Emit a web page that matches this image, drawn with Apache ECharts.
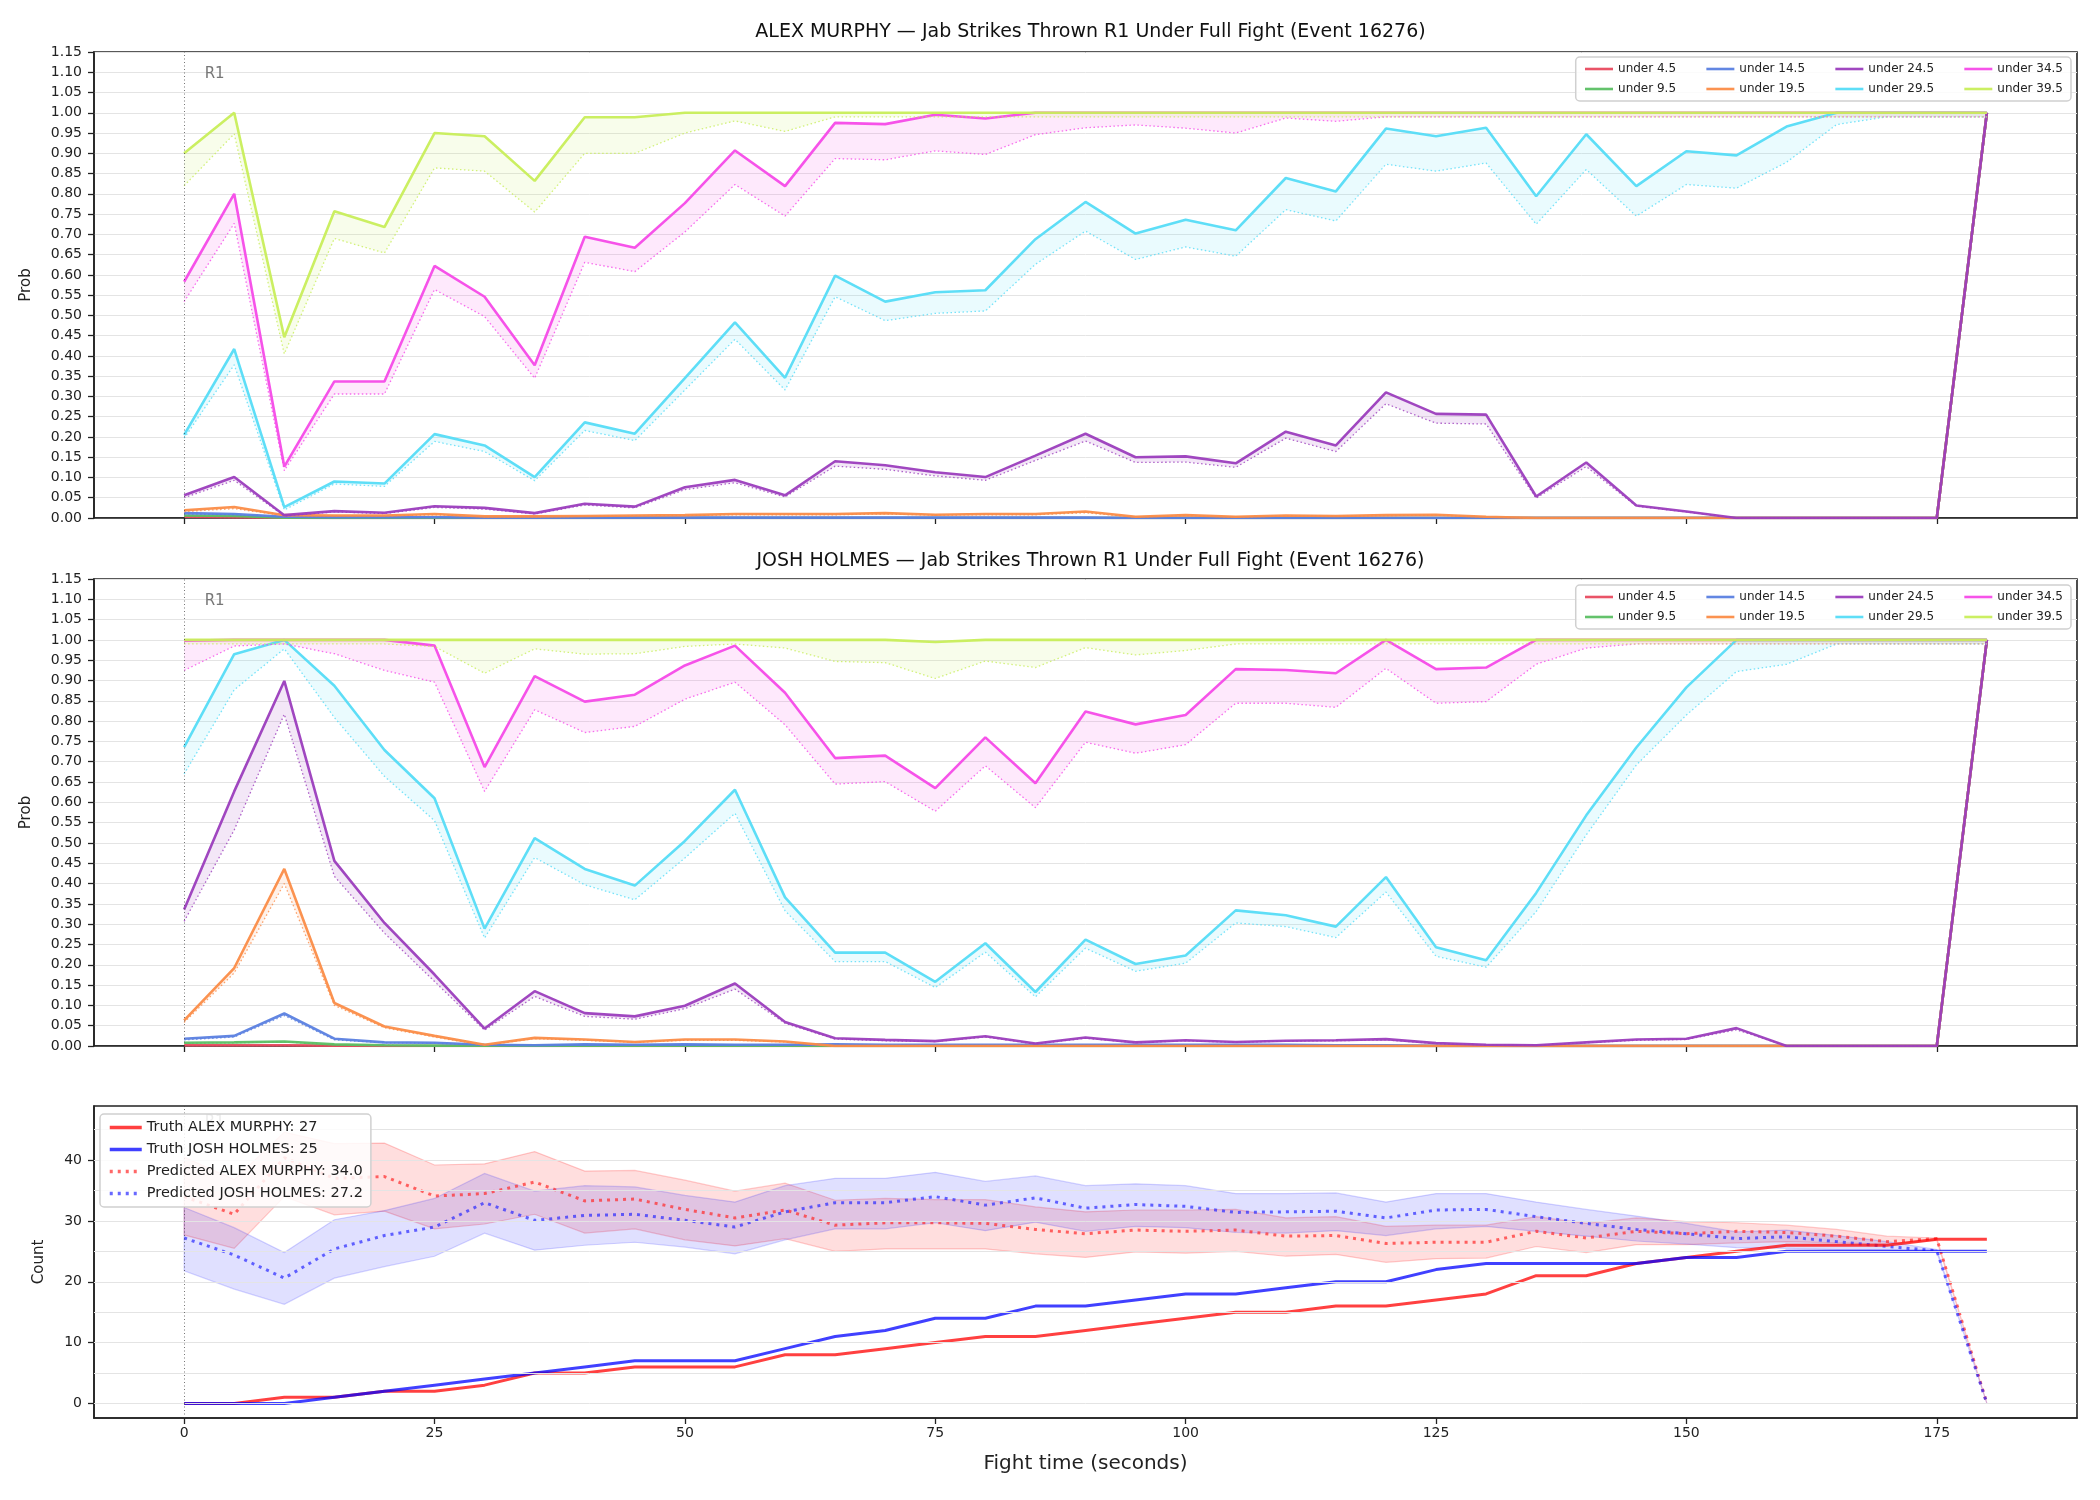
<!DOCTYPE html>
<html>
<head>
<meta charset="utf-8">
<title>Jab Strikes Thrown R1 - Event 16276</title>
<script src="https://cdn.jsdelivr.net/npm/echarts@6/dist/echarts.min.js"></script>
<style>
  html, body { margin: 0; padding: 0; background: #fff; }
  #chart { width: 2100px; height: 1500px; }
</style>
</head>
<body>
<div id="chart"></div>
<script>
// fight time (seconds), one sample every 5 s
const times = [0,5,10,15,20,25,30,35,40,45,50,55,60,65,70,75,80,85,90,95,100,105,110,115,120,125,130,135,140,145,150,155,160,165,170,175,180];
const xTicks = [0,25,50,75,100,125,150,175];
const countLabels = [0,10,20,30,40];
const countGrid = [0,5,10,15,20,25,30,35,40,45];

const thresholds = ['under 4.5','under 9.5','under 14.5','under 19.5','under 24.5','under 29.5','under 34.5','under 39.5'];
const legendRow1 = ['under 4.5','under 14.5','under 24.5','under 34.5'];
const legendRow2 = ['under 9.5','under 19.5','under 29.5','under 39.5'];

// ALEX MURPHY - solid line and dotted (lower) line per threshold
const alexU4_5    = [0.003,0.002,0.001,0,0,0,0,0,0,0,0,0,0,0,0,0,0,0,0,0,0,0,0,0,0,0,0,0,0,0,0,0,0,0,0,0,1];
const alexU4_5Lo  = [0.002,0.001,0,0,0,0,0,0,0,0,0,0,0,0,0,0,0,0,0,0,0,0,0,0,0,0,0,0,0,0,0,0,0,0,0,0,0.99];
const alexU9_5    = [0.006,0.005,0.001,0,0,0,0,0,0,0,0,0,0,0,0,0,0,0,0,0,0,0,0,0,0,0,0,0,0,0,0,0,0,0,0,0,1];
const alexU9_5Lo  = [0.005,0.004,0.001,0,0,0,0,0,0,0,0,0,0,0,0,0,0,0,0,0,0,0,0,0,0,0,0,0,0,0,0,0,0,0,0,0,0.99];
const alexU14_5   = [0.012,0.01,0.003,0.002,0.002,0.002,0.001,0.001,0.001,0.001,0.001,0.001,0.001,0.001,0.001,0.001,0.001,0.001,0.001,0,0,0,0,0,0,0,0,0,0,0,0,0,0,0,0,0,1];
const alexU14_5Lo = [0.01,0.008,0.002,0.002,0.001,0.001,0.001,0.001,0.001,0.001,0.001,0.001,0.001,0.001,0.001,0.001,0.001,0.001,0.001,0,0,0,0,0,0,0,0,0,0,0,0,0,0,0,0,0,0.99];
const alexU19_5   = [0.019,0.027,0.007,0.006,0.006,0.01,0.004,0.004,0.005,0.006,0.007,0.01,0.01,0.01,0.012,0.008,0.01,0.01,0.016,0.003,0.007,0.003,0.006,0.005,0.007,0.008,0.003,0,0,0,0,0,0,0,0,0,1];
const alexU19_5Lo = [0.016,0.023,0.006,0.005,0.005,0.008,0.003,0.003,0.004,0.005,0.006,0.008,0.008,0.008,0.01,0.007,0.008,0.008,0.013,0.002,0.006,0.002,0.005,0.004,0.006,0.007,0.002,0,0,0,0,0,0,0,0,0,0.99];
const alexU24_5   = [0.056,0.101,0.007,0.017,0.013,0.029,0.025,0.012,0.035,0.028,0.076,0.094,0.056,0.14,0.13,0.113,0.101,0.154,0.208,0.15,0.152,0.135,0.213,0.179,0.31,0.257,0.255,0.053,0.137,0.031,0.016,0,0,0,0,0,1];
const alexU24_5Lo = [0.05,0.093,0.005,0.015,0.011,0.026,0.022,0.01,0.032,0.025,0.07,0.087,0.052,0.128,0.12,0.104,0.093,0.142,0.19,0.137,0.138,0.125,0.197,0.164,0.282,0.234,0.232,0.049,0.127,0.029,0.015,0,0,0,0,0,0.99];
const alexU29_5   = [0.205,0.417,0.027,0.09,0.085,0.207,0.179,0.101,0.236,0.208,0.345,0.483,0.346,0.598,0.534,0.557,0.562,0.688,0.78,0.702,0.736,0.71,0.839,0.806,0.961,0.942,0.963,0.794,0.947,0.819,0.905,0.895,0.966,1,1,1,1];
const alexU29_5Lo = [0.197,0.378,0.02,0.084,0.078,0.189,0.164,0.092,0.216,0.191,0.316,0.441,0.316,0.546,0.487,0.505,0.511,0.626,0.708,0.638,0.669,0.646,0.761,0.733,0.873,0.856,0.876,0.725,0.86,0.745,0.823,0.814,0.878,0.971,0.99,0.99,0.99];
const alexU34_5   = [0.583,0.8,0.127,0.337,0.337,0.622,0.546,0.377,0.694,0.667,0.777,0.907,0.819,0.975,0.972,0.995,0.986,1,1,1,1,1,1,1,1,1,1,1,1,1,1,1,1,1,1,1,1];
const alexU34_5Lo = [0.534,0.727,0.117,0.306,0.306,0.564,0.497,0.345,0.631,0.608,0.706,0.823,0.745,0.887,0.884,0.906,0.897,0.946,0.963,0.97,0.962,0.95,0.987,0.979,0.99,0.99,0.99,0.99,0.99,0.99,0.99,0.99,0.99,0.99,0.99,0.99,0.99];
const alexU39_5   = [0.9,1,0.446,0.757,0.718,0.95,0.942,0.832,0.989,0.989,1,1,1,1,1,1,1,1,1,1,1,1,1,1,1,1,1,1,1,1,1,1,1,1,1,1,1];
const alexU39_5Lo = [0.82,0.948,0.405,0.69,0.654,0.864,0.856,0.755,0.9,0.9,0.95,0.98,0.954,0.99,0.99,0.99,0.99,0.99,0.99,0.99,0.99,0.99,0.99,0.99,0.99,0.99,0.99,0.99,0.99,0.99,0.99,0.99,0.99,0.99,0.99,0.99,0.99];

// JOSH HOLMES
const joshU4_5    = [0.002,0.002,0.002,0.001,0,0,0,0,0,0,0,0,0,0,0,0,0,0,0,0,0,0,0,0,0,0,0,0,0,0,0,0,0,0,0,0,1];
const joshU4_5Lo  = [0.001,0.001,0.001,0.001,0,0,0,0,0,0,0,0,0,0,0,0,0,0,0,0,0,0,0,0,0,0,0,0,0,0,0,0,0,0,0,0,0.99];
const joshU9_5    = [0.008,0.009,0.011,0.004,0.002,0.001,0.001,0.001,0.001,0.001,0.001,0.001,0.001,0,0,0,0,0,0,0,0,0,0,0,0,0,0,0,0,0,0,0,0,0,0,0,1];
const joshU9_5Lo  = [0.007,0.008,0.01,0.003,0.002,0.001,0.001,0.001,0.001,0.001,0.001,0.001,0.001,0,0,0,0,0,0,0,0,0,0,0,0,0,0,0,0,0,0,0,0,0,0,0,0.99];
const joshU14_5   = [0.018,0.025,0.08,0.018,0.009,0.008,0.003,0.002,0.004,0.003,0.004,0.003,0.003,0.004,0.003,0.003,0.003,0.003,0.003,0.003,0.003,0.003,0.003,0.002,0.002,0,0,0,0,0,0,0,0,0,0,0,1];
const joshU14_5Lo = [0.015,0.022,0.075,0.015,0.008,0.007,0.002,0.002,0.003,0.002,0.003,0.002,0.002,0.003,0.002,0.002,0.002,0.002,0.002,0.002,0.002,0.002,0.002,0.001,0.001,0,0,0,0,0,0,0,0,0,0,0,0.99];
const joshU19_5   = [0.063,0.192,0.436,0.106,0.048,0.025,0.003,0.02,0.016,0.01,0.016,0.016,0.011,0,0,0,0,0,0,0,0,0,0,0,0,0,0,0,0,0,0,0,0,0,0,0,1];
const joshU19_5Lo = [0.058,0.18,0.4,0.1,0.045,0.022,0.002,0.018,0.014,0.009,0.014,0.014,0.01,0,0,0,0,0,0,0,0,0,0,0,0,0,0,0,0,0,0,0,0,0,0,0,0.99];
const joshU24_5   = [0.336,0.627,0.899,0.456,0.303,0.176,0.043,0.135,0.081,0.073,0.099,0.154,0.059,0.019,0.015,0.012,0.024,0.006,0.021,0.009,0.014,0.01,0.013,0.014,0.017,0.007,0.003,0.002,0.009,0.016,0.018,0.044,0,0,0,0,1];
const joshU24_5Lo = [0.307,0.532,0.817,0.418,0.278,0.159,0.039,0.122,0.073,0.066,0.092,0.14,0.056,0.017,0.013,0.011,0.022,0.005,0.019,0.008,0.013,0.009,0.012,0.013,0.015,0.006,0.003,0.002,0.008,0.014,0.016,0.04,0,0,0,0,0.99];
const joshU29_5   = [0.736,0.965,1,0.887,0.729,0.61,0.289,0.512,0.436,0.395,0.505,0.631,0.366,0.23,0.23,0.158,0.253,0.133,0.262,0.202,0.223,0.334,0.322,0.294,0.416,0.243,0.211,0.377,0.568,0.735,0.883,1,1,1,1,1,1];
const joshU29_5Lo = [0.67,0.877,0.978,0.809,0.664,0.555,0.266,0.464,0.397,0.36,0.463,0.573,0.333,0.208,0.208,0.144,0.231,0.121,0.241,0.184,0.204,0.303,0.294,0.267,0.379,0.221,0.194,0.331,0.52,0.692,0.815,0.922,0.94,0.99,0.99,0.99,0.99];
const joshU34_5   = [0.998,1,1,1,1,0.986,0.687,0.911,0.848,0.865,0.937,0.986,0.87,0.709,0.715,0.635,0.76,0.647,0.824,0.792,0.815,0.928,0.926,0.918,1,0.928,0.932,1,1,1,1,1,1,1,1,1,1];
const joshU34_5Lo = [0.925,0.985,0.99,0.966,0.925,0.896,0.627,0.828,0.772,0.787,0.854,0.896,0.791,0.645,0.651,0.578,0.69,0.587,0.748,0.721,0.742,0.844,0.844,0.834,0.93,0.844,0.848,0.94,0.98,0.99,0.99,0.99,0.99,0.99,0.99,0.99,0.99];
const joshU39_5   = [1,1,1,1,1,1,1,1,1,1,1,1,1,1,1,0.995,1,1,1,1,1,1,1,1,1,1,1,1,1,1,1,1,1,1,1,1,1];
const joshU39_5Lo = [0.99,0.99,0.99,0.99,0.99,0.984,0.918,0.978,0.965,0.966,0.984,0.99,0.98,0.947,0.944,0.905,0.948,0.932,0.981,0.963,0.974,0.99,0.99,0.99,0.99,0.99,0.99,0.99,0.99,0.99,0.99,0.99,0.99,0.99,0.99,0.99,0.99];

// counts panel
const alexTruth  = [0,0,1,1,2,2,3,5,5,6,6,6,8,8,9,10,11,11,12,13,14,15,15,16,16,17,18,21,21,23,24,25,26,26,26,27,27];
const joshTruth  = [0,0,0,1,2,3,4,5,6,7,7,7,9,11,12,14,14,16,16,17,18,18,19,20,20,22,23,23,23,23,24,24,25,25,25,25,25];
const alexPred   = [34.0,31.1,40.4,37.0,37.3,34.1,34.5,36.4,33.3,33.6,31.9,30.5,31.8,29.3,29.7,29.7,29.6,28.6,27.9,28.5,28.3,28.5,27.5,27.6,26.3,26.5,26.5,28.3,27.2,28.3,27.9,28.3,28.1,27.5,26.6,27.1,0];
const joshPred   = [27.2,24.4,20.6,25.4,27.6,29.0,33.0,30.1,30.9,31.1,30.1,29.0,31.5,33.0,33.0,34.0,32.6,33.8,32.1,32.7,32.4,31.4,31.5,31.6,30.5,31.8,31.9,30.7,29.6,28.6,27.9,27.1,27.4,26.6,25.8,25.1,0];
const alexHi     = [40.5,36.8,44.6,42.7,42.8,39.2,39.4,41.4,38.2,38.3,36.7,34.9,36.2,33.4,33.7,33.5,33.5,32.3,31.5,31.8,31.8,31.9,30.5,30.7,29.1,29.3,29.3,30.7,29.6,30.5,29.9,29.7,29.3,28.6,27.5,27.2,0];
const alexLo     = [27.7,25.5,34.0,31.0,31.6,28.7,29.5,31.1,28.0,28.7,26.9,25.9,27.1,25.0,25.4,25.4,25.4,24.6,24.0,24.9,24.7,25.0,24.2,24.5,23.2,23.8,23.9,25.8,24.8,26.1,26.1,26.4,26.6,26.4,26.2,26.8,0];
const joshHi     = [32.2,28.9,24.8,30.2,31.7,33.7,37.8,34.9,35.8,35.6,34.2,33.1,35.8,37.0,37.0,38.0,36.5,37.4,35.8,36.1,35.8,34.5,34.5,34.6,33.1,34.5,34.5,33.1,31.9,30.8,29.6,28.2,28.5,27.6,26.6,25.3,0];
const joshLo     = [21.8,18.8,16.3,20.6,22.5,24.2,28.0,25.2,26.0,26.5,25.7,24.6,26.9,28.7,28.7,29.7,28.4,29.8,28.3,29.1,28.9,28.1,28.0,28.4,27.6,28.7,29.1,28.3,27.5,26.7,26.2,25.6,25.5,25.3,25.2,24.9,0];

const lineColors = ['#e84a5f','#5bbf63','#5a7fe0','#fb8c47','#9b3dbd','#55dcf7','#f54ae8','#c8ee5a'];

const alexSolid  = [alexU4_5, alexU9_5, alexU14_5, alexU19_5, alexU24_5, alexU29_5, alexU34_5, alexU39_5];
const alexDotted = [alexU4_5Lo, alexU9_5Lo, alexU14_5Lo, alexU19_5Lo, alexU24_5Lo, alexU29_5Lo, alexU34_5Lo, alexU39_5Lo];
const joshSolid  = [joshU4_5, joshU9_5, joshU14_5, joshU19_5, joshU24_5, joshU29_5, joshU34_5, joshU39_5];
const joshDotted = [joshU4_5Lo, joshU9_5Lo, joshU14_5Lo, joshU19_5Lo, joshU24_5Lo, joshU29_5Lo, joshU34_5Lo, joshU39_5Lo];

const pairs = ys => times.map((t, i) => [t, ys[i]]);

const FONT = 'DejaVu Sans';
const INK = '#222';

// filled region between two curves, placed with the axis scales
function band(p, hi, lo, fill, edge) {
  return {
    type: 'custom', xAxisIndex: p, yAxisIndex: p, silent: true,
    data: [[times[0], lo[0]]],
    encode: { x: 0, y: 1 },
    renderItem: (params, api) => {
      const upper = hi.map((v, i) => api.coord([times[i], v]));
      const lower = lo.map((v, i) => api.coord([times[i], v])).reverse();
      return {
        type: 'polygon',
        shape: { points: upper.concat(lower) },
        style: { fill, stroke: edge || null, lineWidth: edge ? 1.2 : 0 }
      };
    }
  };
}

function hexA(hex, a) {
  const n = parseInt(hex.slice(1), 16);
  return 'rgba(' + (n >> 16) + ',' + ((n >> 8) & 255) + ',' + (n & 255) + ',' + a + ')';
}

function roundMarker(p, yPos) {
  return {
    type: 'line', name: 'r1-' + p, xAxisIndex: p, yAxisIndex: p, data: [], silent: true,
    markLine: {
      silent: true, symbol: ['none', 'none'], label: { show: false },
      lineStyle: { color: 'rgba(60,60,60,0.7)', width: 1, type: [1, 2.5] },
      emphasis: { disabled: true },
      data: [{ xAxis: 0 }]
    },
    markPoint: {
      silent: true, symbol: 'circle', symbolSize: 1, itemStyle: { color: 'rgba(0,0,0,0)' },
      label: { show: true, formatter: 'R1', position: 'right', distance: 20, color: '#777', fontSize: 15, fontFamily: FONT },
      data: [{ coord: [0, yPos] }]
    }
  };
}

function probPanel(p, solid, dotted) {
  const out = [roundMarker(p, 1.095)];
  thresholds.forEach((name, k) => {
    const c = lineColors[k];
    out.push(band(p, solid[k], dotted[k], hexA(c, 0.12)));
    out.push({
      type: 'line', name: name + ' pred', xAxisIndex: p, yAxisIndex: p,
      data: pairs(dotted[k]), symbol: 'none', silent: true,
      lineStyle: { color: c, width: 1.3, type: [1.5, 2.5], opacity: 0.8 }
    });
    out.push({
      type: 'line', name, xAxisIndex: p, yAxisIndex: p,
      data: pairs(solid[k]), symbol: 'none', silent: true,
      itemStyle: { color: c }, lineStyle: { color: c, width: 2.6, opacity: 0.95 }
    });
  });
  return out;
}

const truthA = 'Truth ALEX MURPHY: ' + alexTruth[alexTruth.length - 1];
const truthJ = 'Truth JOSH HOLMES: ' + joshTruth[joshTruth.length - 1];
const predA = 'Predicted ALEX MURPHY: ' + alexPred[0].toFixed(1);
const predJ = 'Predicted JOSH HOLMES: ' + joshPred[0].toFixed(1);

const countSeries = [
  {
    type: 'line', name: 'grid', xAxisIndex: 2, yAxisIndex: 2, data: [], silent: true, z: 0,
    markLine: {
      silent: true, symbol: ['none', 'none'], label: { show: false },
      lineStyle: { color: '#e4e4e4', width: 1, type: 'solid' },
      emphasis: { disabled: true },
      data: countGrid.map(v => ({ yAxis: v }))
    }
  },
  roundMarker(2, 46.3),
  band(2, alexHi, alexLo, 'rgba(255,0,0,0.13)', 'rgba(255,0,0,0.2)'),
  band(2, joshHi, joshLo, 'rgba(0,0,255,0.12)', 'rgba(0,0,255,0.17)'),
  { type: 'line', name: predA, xAxisIndex: 2, yAxisIndex: 2, data: pairs(alexPred), symbol: 'none', silent: true,
    itemStyle: { color: 'rgba(255,40,40,0.7)' }, lineStyle: { color: 'rgba(255,40,40,0.7)', width: 3, type: [3, 5] } },
  { type: 'line', name: predJ, xAxisIndex: 2, yAxisIndex: 2, data: pairs(joshPred), symbol: 'none', silent: true,
    itemStyle: { color: 'rgba(40,40,255,0.7)' }, lineStyle: { color: 'rgba(40,40,255,0.7)', width: 3, type: [3, 5] } },
  { type: 'line', name: truthA, xAxisIndex: 2, yAxisIndex: 2, data: pairs(alexTruth), symbol: 'none', silent: true,
    itemStyle: { color: 'rgba(255,0,0,0.75)' }, lineStyle: { color: 'rgba(255,0,0,0.75)', width: 3 } },
  { type: 'line', name: truthJ, xAxisIndex: 2, yAxisIndex: 2, data: pairs(joshTruth), symbol: 'none', silent: true,
    itemStyle: { color: 'rgba(0,0,255,0.75)' }, lineStyle: { color: 'rgba(0,0,255,0.75)', width: 3 } }
];

const grids = [
  { left: 94, right: 23, top: 52, height: 466 },
  { left: 94, right: 23, top: 579, height: 467 },
  { left: 94, right: 23, top: 1106, height: 312 }
].map(g => Object.assign(g, { show: true, borderColor: INK, borderWidth: 1.6, backgroundColor: 'transparent' }));

function xAxisFor(i) {
  return {
    type: 'value', gridIndex: i, min: -9, max: 189,
    splitLine: { show: false },
    axisLine: { show: true, onZero: false, lineStyle: { color: INK, width: 1.6 } },
    axisTick: { show: true, length: 6, customValues: xTicks, lineStyle: { color: INK, width: 1.3 } },
    axisLabel: { show: i === 2, customValues: xTicks, fontSize: 14, color: INK, margin: 8, fontFamily: FONT },
    name: i === 2 ? 'Fight time (seconds)' : '',
    nameLocation: 'middle', nameGap: 36,
    nameTextStyle: { fontSize: 20, color: INK, fontFamily: FONT }
  };
}

function probAxis(i) {
  return {
    type: 'value', gridIndex: i, min: 0, max: 1.15, interval: 0.05,
    name: 'Prob', nameLocation: 'middle', nameGap: 60,
    nameTextStyle: { fontSize: 15, color: INK, fontFamily: FONT },
    axisLine: { show: true, onZero: false, lineStyle: { color: INK, width: 1.6 } },
    axisTick: { show: true, length: 6, lineStyle: { color: INK, width: 1.3 } },
    axisLabel: { fontSize: 14, color: INK, margin: 12, fontFamily: FONT, formatter: v => v.toFixed(2) },
    splitLine: { show: true, lineStyle: { color: '#e4e4e4', width: 1 } }
  };
}

// two legend rows per probability panel; the first row carries the frame
function probLegends(top) {
  const common = {
    right: 29, itemWidth: 28, itemHeight: 12, itemGap: 29,
    itemStyle: { opacity: 0 },
    lineStyle: { width: 2.6 },
    textStyle: { fontSize: 12, color: INK, fontFamily: FONT }
  };
  return [
    Object.assign({}, common, {
      top, data: legendRow1, padding: [6, 8, 26, 8],
      backgroundColor: 'rgba(255,255,255,0.85)',
      borderColor: '#d0d0d0', borderWidth: 1.5, borderRadius: 4
    }),
    Object.assign({}, common, { top: top + 20, data: legendRow2, padding: [6, 8, 6, 8] })
  ];
}

const option = {
  animation: false,
  backgroundColor: '#fff',
  textStyle: { fontFamily: FONT },
  title: [
    { text: 'ALEX MURPHY — Jab Strikes Thrown R1 Under Full Fight (Event 16276)', left: 1085.5, top: 18, textAlign: 'center',
      textStyle: { fontSize: 19, fontWeight: 'normal', color: '#111', fontFamily: FONT } },
    { text: 'JOSH HOLMES — Jab Strikes Thrown R1 Under Full Fight (Event 16276)', left: 1085.5, top: 547, textAlign: 'center',
      textStyle: { fontSize: 19, fontWeight: 'normal', color: '#111', fontFamily: FONT } }
  ],
  legend: [].concat(probLegends(57), probLegends(585), [{
    orient: 'vertical', left: 100, top: 1114, z: 20, zlevel: 1,
    data: [truthA, truthJ, predA, predJ],
    itemWidth: 32, itemHeight: 14, itemGap: 7,
    itemStyle: { opacity: 0 },
    lineStyle: { width: 3.5 },
    padding: [6, 8],
    backgroundColor: 'rgba(255,255,255,0.85)',
    borderColor: '#d0d0d0', borderWidth: 1.5, borderRadius: 4,
    textStyle: { fontSize: 14.5, color: INK, fontFamily: FONT }
  }]),
  grid: grids,
  xAxis: [xAxisFor(0), xAxisFor(1), xAxisFor(2)],
  yAxis: [
    probAxis(0),
    probAxis(1),
    {
      type: 'value', gridIndex: 2, min: -2.4, max: 48.9,
      name: 'Count', nameLocation: 'middle', nameGap: 47,
      nameTextStyle: { fontSize: 15, color: INK, fontFamily: FONT },
      axisLine: { show: true, onZero: false, lineStyle: { color: INK, width: 1.6 } },
      axisTick: { show: true, length: 6, customValues: countLabels, lineStyle: { color: INK, width: 1.3 } },
      axisLabel: { customValues: countLabels, fontSize: 14, color: INK, margin: 12, fontFamily: FONT },
      splitLine: { show: false }
    }
  ],
  series: [].concat(probPanel(0, alexSolid, alexDotted), probPanel(1, joshSolid, joshDotted), countSeries)
};

const chart = echarts.init(document.getElementById('chart'), null, { renderer: 'canvas' });
chart.setOption(option);
</script>
</body>
</html>
